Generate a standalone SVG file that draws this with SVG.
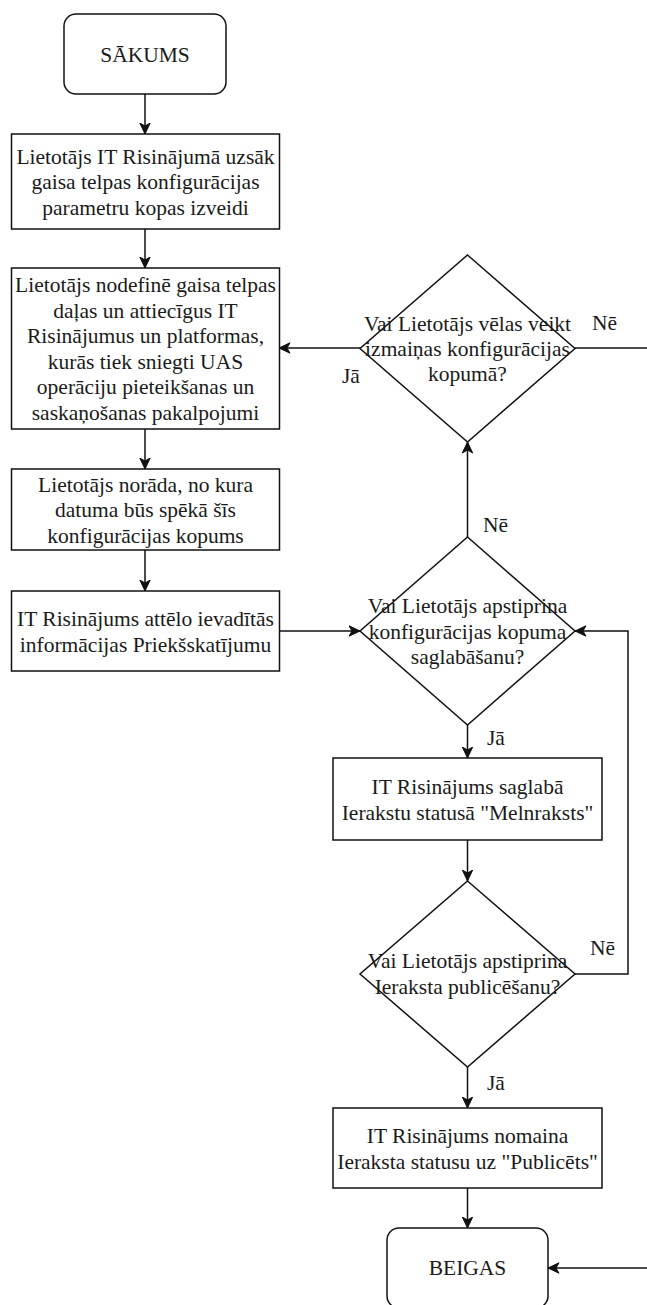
<svg xmlns="http://www.w3.org/2000/svg" width="647" height="1305" viewBox="0 0 647 1305">
<defs>
<style>
.shape{fill:#fff;stroke:#111;stroke-width:1.5}
.edge{fill:none;stroke:#111;stroke-width:1.5}
.t{font-size:21.5px;fill:#1a1a1a;text-anchor:middle}
.lbl{font-size:21.5px;fill:#1a1a1a;text-anchor:start}
</style>
<marker id="arr" markerUnits="userSpaceOnUse" markerWidth="12" markerHeight="12" viewBox="0 0 12 12" refX="11.5" refY="6" orient="auto">
<path d="M11.5,6 L0.5,0.8 L3.5,6 L0.5,11.2 Z" fill="#111" stroke="#111" stroke-width="1"/>
</marker>
</defs>
<rect width="647" height="1305" fill="#fff"/>
<g font-family="Liberation Serif, Tinos, Times New Roman, DejaVu Serif, serif">
<g id="connectors">
<path class="edge" d="M145,94 L145,134" marker-end="url(#arr)"/>
<path class="edge" d="M145,229 L145,268" marker-end="url(#arr)"/>
<path class="edge" d="M145,429 L145,469" marker-end="url(#arr)"/>
<path class="edge" d="M145,550 L145,591" marker-end="url(#arr)"/>
<path class="edge" d="M279,631 L360,631" marker-end="url(#arr)"/>
<path class="edge" d="M467.5,537 L467.5,442" marker-end="url(#arr)"/>
<path class="edge" d="M360,348 L279,348" marker-end="url(#arr)"/>
<path class="edge" d="M575,348 L647,348"/>
<path class="edge" d="M467.5,725 L467.5,758" marker-end="url(#arr)"/>
<path class="edge" d="M467.5,840 L467.5,881" marker-end="url(#arr)"/>
<path class="edge" d="M575,974 L628,974 L628,631 L575,631" marker-end="url(#arr)"/>
<path class="edge" d="M467.5,1067 L467.5,1108" marker-end="url(#arr)"/>
<path class="edge" d="M467.5,1188 L467.5,1228" marker-end="url(#arr)"/>
<path class="edge" d="M647,1268 L548,1268" marker-end="url(#arr)"/>
<text class="lbl" x="592" y="330">Nē</text>
<text class="lbl" x="342" y="383">Jā</text>
<text class="lbl" x="483" y="532">Nē</text>
<text class="lbl" x="487" y="745">Jā</text>
<text class="lbl" x="590" y="955">Nē</text>
<text class="lbl" x="487" y="1090">Jā</text>
</g>

<g id="start">
<rect class="shape" x="64" y="14" width="162" height="80" rx="12"/>
<text class="t" x="145" y="62">SĀKUMS</text>
</g>

<g id="box1">
<rect class="shape" x="11.5" y="134" width="268" height="95"/>
<text class="t" x="145.5" y="163.5">Lietotājs IT Risinājumā uzsāk</text>
<text class="t" x="145.5" y="189">gaisa telpas konfigurācijas</text>
<text class="t" x="145.5" y="214.5">parametru kopas izveidi</text>
</g>

<g id="box2">
<rect class="shape" x="11.5" y="268" width="268" height="161"/>
<text class="t" x="145.5" y="292">Lietotājs nodefinē gaisa telpas</text>
<text class="t" x="145.5" y="317.5">daļas un attiecīgus IT</text>
<text class="t" x="145.5" y="343">Risinājumus un platformas,</text>
<text class="t" x="145.5" y="368.5">kurās tiek sniegti UAS</text>
<text class="t" x="145.5" y="394">operāciju pieteikšanas un</text>
<text class="t" x="145.5" y="419.5">saskaņošanas pakalpojumi</text>
</g>

<g id="box3">
<rect class="shape" x="11.5" y="469" width="268" height="81"/>
<text class="t" x="145.5" y="491.5">Lietotājs norāda, no kura</text>
<text class="t" x="145.5" y="517">datuma būs spēkā šīs</text>
<text class="t" x="145.5" y="542.5">konfigurācijas kopums</text>
</g>

<g id="box4">
<rect class="shape" x="11.5" y="591" width="268" height="80"/>
<text class="t" x="145.5" y="626">IT Risinājums attēlo ievadītās</text>
<text class="t" x="145.5" y="651.5">informācijas Priekšskatījumu</text>
</g>

<g id="decision1">
<polygon class="shape" points="467.5,255 575,348.5 467.5,442 360,348.5"/>
<text class="t" x="467.5" y="331">Vai Lietotājs vēlas veikt</text>
<text class="t" x="467.5" y="356">izmaiņas konfigurācijas</text>
<text class="t" x="467.5" y="381">kopumā?</text>
</g>

<g id="decision2">
<polygon class="shape" points="467.5,537 575,631 467.5,725 360,631"/>
<text class="t" x="467.5" y="613">Vai Lietotājs apstiprina</text>
<text class="t" x="467.5" y="638.5">konfigurācijas kopuma</text>
<text class="t" x="467.5" y="664">saglabāšanu?</text>
</g>

<g id="box5">
<rect class="shape" x="333" y="758" width="269" height="82"/>
<text class="t" x="467.5" y="794">IT Risinājums saglabā</text>
<text class="t" x="467.5" y="819.5">Ierakstu statusā "Melnraksts"</text>
</g>

<g id="decision3">
<polygon class="shape" points="467.5,881 575,974 467.5,1067 360,974"/>
<text class="t" x="467.5" y="968">Vai Lietotājs apstiprina</text>
<text class="t" x="467.5" y="993.5">Ieraksta publicēšanu?</text>
</g>

<g id="box6">
<rect class="shape" x="333" y="1108" width="269" height="80"/>
<text class="t" x="467.5" y="1143">IT Risinājums nomaina</text>
<text class="t" x="467.5" y="1168.5">Ieraksta statusu uz "Publicēts"</text>
</g>

<g id="end">
<rect class="shape" x="387" y="1228" width="161" height="80" rx="12"/>
<text class="t" x="467.5" y="1275">BEIGAS</text>
</g>
</g>
</svg>
